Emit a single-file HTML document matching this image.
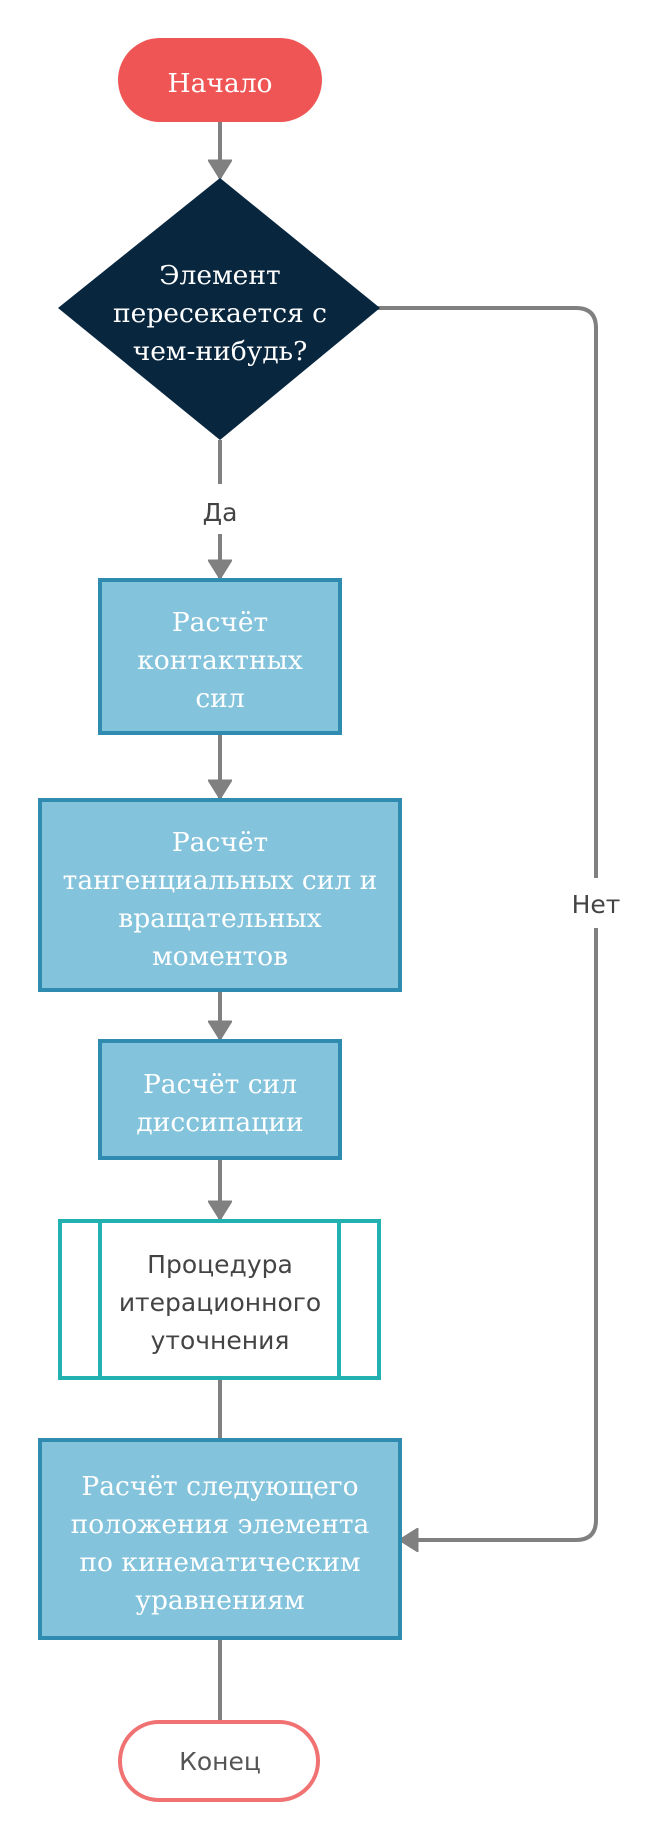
<!DOCTYPE html>
<html><head><meta charset="utf-8"><style>
html,body{margin:0;padding:0;background:#fff;width:660px;height:1840px;overflow:hidden}
.s{font-family:"DejaVu Serif","Liberation Serif","Noto Serif CJK SC",serif;font-size:26.5px;fill:#fff;text-anchor:middle}
.n{font-family:"DejaVu Sans","Liberation Sans","Noto Sans CJK SC",sans-serif;font-size:25px;fill:#444;text-anchor:middle}
</style></head><body>
<svg width="660" height="1840" viewBox="0 0 660 1840" xmlns="http://www.w3.org/2000/svg">
<defs>
<marker id="a" markerWidth="5" markerHeight="6" refX="4.6" refY="3" orient="auto" markerUnits="strokeWidth">
<path d="M0,0 L4.8,3 L0,6 Z" fill="#808080" stroke="#808080" stroke-width="0.4" stroke-linejoin="round"/>
</marker>
</defs>
<g stroke="#808080" stroke-width="4" fill="none">
<line x1="220" y1="120" x2="220" y2="178" marker-end="url(#a)"/>
<line x1="220" y1="440" x2="220" y2="484"/>
<line x1="220" y1="534" x2="220" y2="578" marker-end="url(#a)"/>
<line x1="220" y1="735" x2="220" y2="798" marker-end="url(#a)"/>
<line x1="220" y1="992" x2="220" y2="1039" marker-end="url(#a)"/>
<line x1="220" y1="1160" x2="220" y2="1219" marker-end="url(#a)"/>
<line x1="220" y1="1379" x2="220" y2="1438"/>
<line x1="220" y1="1640" x2="220" y2="1722"/>
<path d="M370,308 H576 Q596,308 596,328 V878"/>
<path d="M596,928 V1520 Q596,1540 576,1540 H400" marker-end="url(#a)"/>
</g>
<rect x="118" y="38" width="204" height="84" rx="42" fill="#ef5555"/>
<text class="s" x="220" y="92">Начало</text>
<polygon points="220,178 380,308 220,440 58,308" fill="#08263e"/>
<text class="s" x="220" y="284">Элемент</text>
<text class="s" x="220" y="322">пересекается с</text>
<text class="s" x="220" y="360">чем-нибудь?</text>
<text class="n" x="220" y="521" style="font-size:25px">Да</text>
<text class="n" x="596" y="913" style="font-size:25px">Нет</text>
<g fill="#84c3dc" stroke="#2f8cb0" stroke-width="4">
<rect x="100" y="580" width="240" height="153"/>
<rect x="40" y="800" width="360" height="190"/>
<rect x="100" y="1041" width="240" height="117"/>
<rect x="40" y="1440" width="360" height="198"/>
</g>
<text class="s" x="220" y="631">Расчёт</text>
<text class="s" x="220" y="669">контактных</text>
<text class="s" x="220" y="707">сил</text>
<text class="s" x="220" y="851">Расчёт</text>
<text class="s" x="220" y="889">тангенциальных сил и</text>
<text class="s" x="220" y="927">вращательных</text>
<text class="s" x="220" y="965">моментов</text>
<text class="s" x="220" y="1093">Расчёт сил</text>
<text class="s" x="220" y="1131">диссипации</text>
<g fill="#fff" stroke="#22b0b0" stroke-width="4">
<rect x="60" y="1221" width="319" height="157"/>
<line x1="100" y1="1221" x2="100" y2="1378"/>
<line x1="339" y1="1221" x2="339" y2="1378"/>
</g>
<text class="n" x="220" y="1273">Процедура</text>
<text class="n" x="220" y="1311">итерационного</text>
<text class="n" x="220" y="1349">уточнения</text>
<text class="s" x="220" y="1495">Расчёт следующего</text>
<text class="s" x="220" y="1533">положения элемента</text>
<text class="s" x="220" y="1571">по кинематическим</text>
<text class="s" x="220" y="1609">уравнениям</text>
<rect x="120" y="1722" width="198" height="78" rx="39" fill="#fff" stroke="#f07272" stroke-width="4"/>
<text class="n" x="220" y="1770" style="fill:#555">Конец</text>
</svg>
</body></html>
